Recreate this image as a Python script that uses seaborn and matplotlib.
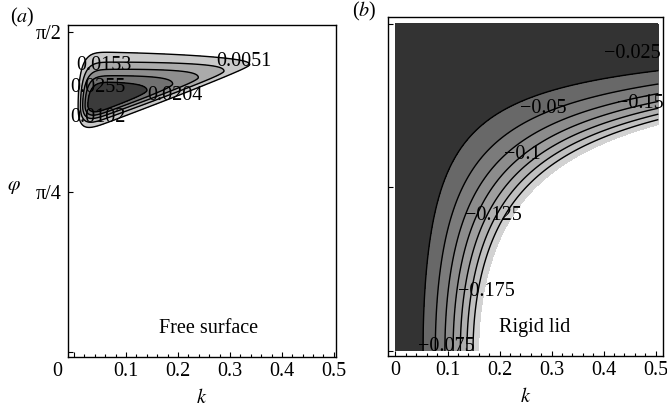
import numpy as np
import matplotlib
matplotlib.use("Agg")
import matplotlib.pyplot as plt
import seaborn as sns

# contour levels shown in each panel
free_levels = [0.0051, 0.0102, 0.0153, 0.0204, 0.0255]
rigid_levels = [-0.175, -0.15, -0.125, -0.1, -0.075, -0.05, -0.025]
rigid_floor = -0.2   # below this the plot is left blank

# fitted shape constants
# free surface: ridge height, rise, decay, ridge line, widths above/below
free_amp, free_k1, free_n, free_k2 = 0.04, 0.0247, 1.75, 0.3875
free_phi0, free_tilt = 1.194, 0.64
free_wup, free_wdown, free_wexp = 0.195, 0.09, 0.68
# rigid lid: f = -a * (k cos^q phi)^p
rigid_a, rigid_p, rigid_q = 6.27, 1.88, 1.5

xtick_vals = [0, 0.1, 0.2, 0.3, 0.4, 0.5]
xtick_labels = ["0", "0.1", "0.2", "0.3", "0.4", "0.5"]
ytick_vals = [0, np.pi / 4, np.pi / 2]
ytick_labels = ["", "π/4", "π/2"]

free_colors = ["#c9c9c9", "#ababab", "#8e8e8e", "#717171", "#3b3b3b"]
rigid_colors = ["#d2d2d2", "#c0c0c0", "#afafaf", "#9e9e9e",
                "#8c8c8c", "#7b7b7b", "#686868", "#333333"]

sns.set_theme(style="white")
plt.rcParams["font.family"] = ["Liberation Serif", "DejaVu Serif"]
plt.rcParams["mathtext.fontset"] = "stix"
plt.rcParams["font.size"] = 14.5
plt.rcParams["xtick.labelsize"] = 14.5
plt.rcParams["ytick.labelsize"] = 14.5
plt.rcParams["axes.labelsize"] = 14.5
plt.rcParams["text.color"] = "black"
plt.rcParams["axes.labelcolor"] = "black"
plt.rcParams["xtick.color"] = "black"
plt.rcParams["ytick.color"] = "black"
plt.rcParams["contour.negative_linestyle"] = "solid"

# grids
k = np.linspace(0, 0.5, 500)
phi = np.linspace(0, np.pi / 2, 500)
K, PHI = np.meshgrid(k, phi)

# free surface field
L = 1 - np.exp(-(K / free_k1) ** free_n)
R = np.clip(1 - K / free_k2, 0, None)
P = free_amp * L * R
phic = free_phi0 + free_tilt * K
w = np.where(PHI > phic, free_wup, free_wdown) * (R + 1e-6) ** free_wexp
Z_free = P * np.exp(-((PHI - phic) / w) ** 2)

# rigid lid field
k2 = np.linspace(0, 0.505, 500)
K2, PHI2 = np.meshgrid(k2, phi)
Z_rigid = -rigid_a * (K2 * np.clip(np.cos(PHI2), 0, None) ** rigid_q) ** rigid_p

fig = plt.figure(figsize=(6.67, 4.15), dpi=100)
ax1 = fig.add_axes([0.1019, 0.1398, 0.4018, 0.80])
ax2 = fig.add_axes([0.5817, 0.1422, 0.4123, 0.8169])

ax1.contourf(K, PHI, Z_free, levels=free_levels + [1.0], colors=free_colors)
ax1.contour(K, PHI, Z_free, levels=free_levels, colors="black", linewidths=1.0,
            linestyles="solid")

ax2.contourf(K2, PHI2, Z_rigid, levels=[rigid_floor] + rigid_levels + [0.01],
             colors=rigid_colors)
ax2.contour(K2, PHI2, Z_rigid, levels=rigid_levels, colors="black", linewidths=1.0,
            linestyles="solid")

fmt = lambda v: f"{v:g}".replace("-", "\u2212")

# label spots (k, phi) for each level
free_spots = {0.0051: (0.327, 1.428), 0.0153: (0.058, 1.404), 0.0255: (0.046, 1.296),
              0.0204: (0.194, 1.257), 0.0102: (0.046, 1.149)}
for lev, (x, y) in free_spots.items():
    ax1.text(x, y, fmt(lev), ha="center", va="center", fontsize=14.5)

rigid_spots = {-0.025: (0.455, 1.427), -0.05: (0.284, 1.163), -0.15: (0.47, 1.19),
               -0.1: (0.243, 0.942), -0.125: (0.189, 0.653), -0.175: (0.174, 0.288),
               -0.075: (0.097, 0.02)}
for lev, (x, y) in rigid_spots.items():
    ax2.text(x, y, fmt(lev), ha="center", va="center", fontsize=14.5)

ax1.text(0.258, 0.113, "Free surface", ha="center", va="center")
ax2.text(0.267, 0.115, "Rigid lid", ha="center", va="center")

for ax in (ax1, ax2):
    ax.set_xticks(xtick_vals)
    ax.set_xticks(np.arange(0, 0.51, 0.02), minor=True)
    ax.set_yticks(ytick_vals)
    ax.tick_params(which="both", direction="in", color="black", width=0.8,
                   bottom=True, left=True, top=False, right=False)
    ax.tick_params(which="major", length=3.5, pad=3.5)
    ax.tick_params(which="minor", length=2)
    ax.tick_params(axis="y", which="minor", left=False)
    for s in ax.spines.values():
        s.set_color("black")
        s.set_linewidth(1.0)
    ax.set_xlabel("$k$", labelpad=6)

ax1.set_xlim(-0.0115, 0.504)
ax1.set_ylim(-0.0245, 1.605)
ax2.set_xlim(-0.0144, 0.514)
ax2.set_ylim(-0.024, 1.6045)

ax1.set_xticklabels([""] + xtick_labels[1:])
ax1.annotate(xtick_labels[0], xy=(0, 0), xycoords=("data", "axes fraction"),
             xytext=(-12, -3.5), textcoords="offset points", ha="center", va="top",
             fontsize=14.5)
ax1.set_yticklabels(ytick_labels)
ax1.tick_params(axis="y", pad=4.5)
ax2.set_xticklabels(xtick_labels)
ax2.set_yticklabels([])

fig.text(14 / 667, 1 - 187 / 415, r"$\varphi$", ha="center", va="center")
fig.text(22 / 667, 1 - 17 / 415, "($a$)", ha="center", va="center")
fig.text(364 / 667, 1 - 11 / 415, "($b$)", ha="center", va="center")

fig.savefig("out.png", dpi=100)
